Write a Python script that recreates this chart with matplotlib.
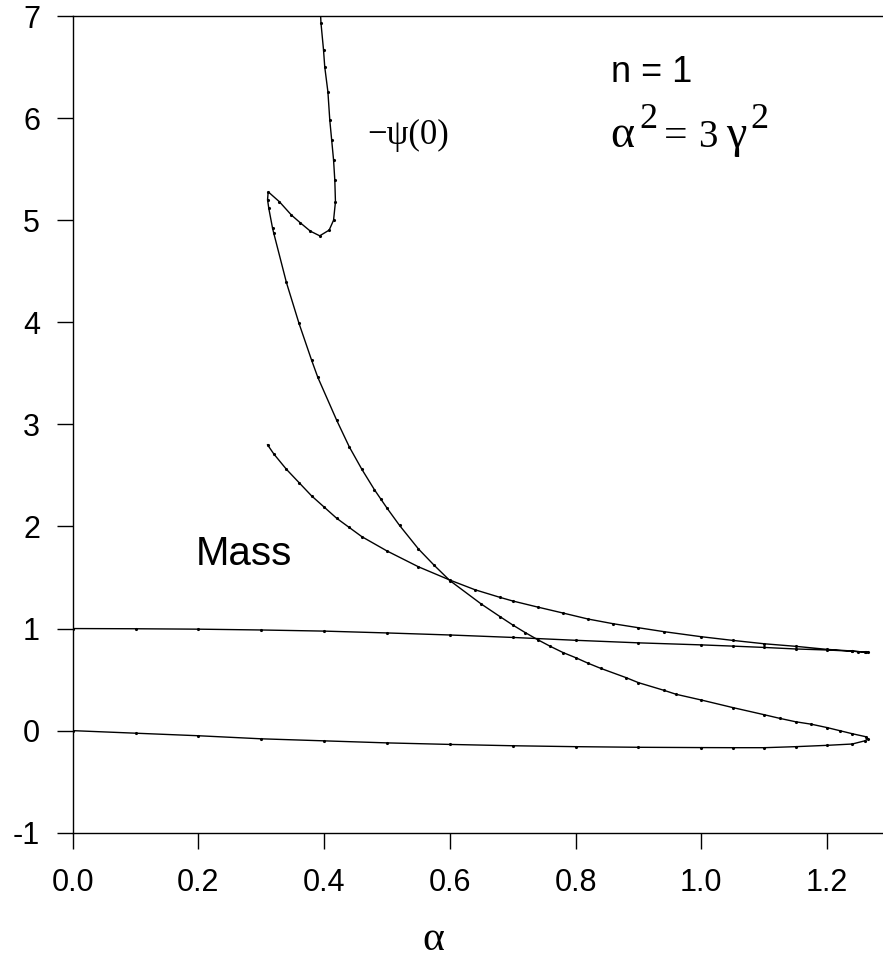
import numpy as np
import matplotlib
matplotlib.use("Agg")
import matplotlib.pyplot as plt

# Mass curve: lower branch from alpha=0 out to the turning point, then back up-left
mass_alpha = [0.0, 0.1, 0.2, 0.3, 0.4, 0.5, 0.6, 0.7, 0.8, 0.9, 1.0, 1.05, 1.1, 1.15,
              1.2, 1.24, 1.26, 1.265,
              1.262, 1.25, 1.24, 1.2, 1.15, 1.1, 1.05, 1.0, 0.94, 0.9, 0.86, 0.82,
              0.78, 0.74, 0.70, 0.68, 0.64, 0.6, 0.55, 0.5, 0.46, 0.44, 0.42, 0.40,
              0.38, 0.36, 0.34, 0.32, 0.31]
mass_val = [1.0, 0.998, 0.994, 0.986, 0.975, 0.957, 0.937, 0.913, 0.885, 0.86, 0.84, 0.828,
            0.815, 0.80, 0.79, 0.778, 0.770, 0.767,
            0.770, 0.774, 0.78, 0.796, 0.826, 0.851, 0.884, 0.92, 0.97, 1.008, 1.047, 1.093,
            1.152, 1.21, 1.27, 1.305, 1.38, 1.475, 1.605, 1.76, 1.90, 1.99, 2.08, 2.19,
            2.30, 2.43, 2.56, 2.71, 2.80]

# -psi(0) curve
psi_alpha = [0.0, 0.1, 0.2, 0.3, 0.4, 0.5, 0.6, 0.7, 0.8, 0.9, 1.0, 1.05, 1.1, 1.15,
             1.2, 1.24, 1.26, 1.265,
             1.262, 1.24, 1.22, 1.2, 1.175, 1.15, 1.125, 1.1, 1.05, 1.0, 0.96, 0.94,
             0.9, 0.88, 0.84, 0.82, 0.8, 0.78, 0.76, 0.74, 0.72, 0.70, 0.68, 0.65,
             0.6, 0.575, 0.55, 0.52, 0.50, 0.49, 0.48, 0.46, 0.44, 0.42, 0.39, 0.38,
             0.36, 0.34, 0.32, 0.318, 0.312, 0.310, 0.311,
             0.329, 0.348, 0.362, 0.378, 0.393, 0.408, 0.415, 0.418, 0.417, 0.415,
             0.412, 0.409, 0.406, 0.401, 0.399, 0.395, 0.394]
psi_val = [0.0, -0.025, -0.05, -0.08, -0.10, -0.12, -0.135, -0.148, -0.157, -0.163, -0.166,
           -0.167, -0.167, -0.157, -0.144, -0.131, -0.10, -0.08,
           -0.06, -0.03, 0.0, 0.03, 0.063, 0.087, 0.12, 0.156, 0.226, 0.30, 0.356, 0.396,
           0.47, 0.52, 0.61, 0.66, 0.715, 0.765, 0.825, 0.89, 0.96, 1.035, 1.116, 1.24,
           1.47, 1.62, 1.78, 2.01, 2.18, 2.27, 2.36, 2.56, 2.78, 3.04, 3.46, 3.63,
           3.99, 4.39, 4.87, 4.92, 5.115, 5.20, 5.278,
           5.18, 5.05, 4.975, 4.893, 4.847, 4.903, 5.0, 5.18, 5.39, 5.59,
           5.785, 5.98, 6.258, 6.50, 6.67, 6.93, 7.05]

xticks = [0.0, 0.2, 0.4, 0.6, 0.8, 1.0, 1.2]
yticks = [-1, 0, 1, 2, 3, 4, 5, 6, 7]

serif = ['Liberation Serif', 'DejaVu Serif']
plt.rcParams['font.family'] = ['Liberation Sans', 'DejaVu Sans']

W, H = 883, 971
fig = plt.figure(figsize=(W / 100, H / 100), dpi=100)
ax = fig.add_axes([0.0823, 0.1424, 1.0 - 0.0823, 0.9835 - 0.1424])

for xs, ys in [(mass_alpha, mass_val), (psi_alpha, psi_val)]:
    ax.plot(xs, ys, color='black', lw=1.0, marker='.', ms=2.5)

ax.set_xlim(0, 1.289)
ax.set_ylim(-1, 7)
ax.set_xticks(xticks)
ax.set_xticklabels([f"{t:.1f}" for t in xticks])
ax.set_yticks(yticks)
ax.set_yticklabels([str(t) for t in yticks])
ax.spines['right'].set_visible(False)
for s in ['left', 'bottom', 'top']:
    ax.spines[s].set_linewidth(1.0)
ax.tick_params(direction='out', length=11.5, width=1.0, labelsize=22)
ax.tick_params(axis='y', pad=12)
ax.tick_params(axis='x', pad=14)


def put(px, py, s, size, **kw):
    # place a piece of text by its left/baseline pixel position
    fig.text(px / W, 1 - py / H, s, fontsize=size, va='baseline', **kw)


ax.text(0.857, 6.356, "n = 1", fontsize=26, va='baseline')
put(610, 146.7, "\u03b1", 33, family=serif)
put(639, 128.3, "2", 26, family=serif)
put(664, 146.7, "=", 30, family=serif)
put(698, 146.7, "3", 28, family=serif)
put(726, 146.7, "\u03b3", 33, family=serif)
put(750, 128.3, "2", 26, family=serif)

ax.text(0.468, 5.75, "\u2212\u03c8(0)", fontsize=25, va='baseline', family=serif)
ax.text(0.195, 1.62, "Mass", fontsize=29, va='baseline')

fig.text(433 / W, 1 - 940 / H, "\u03b1", fontsize=30, ha='center', va='center',
         family=serif)

fig.savefig("out.png", dpi=100)
